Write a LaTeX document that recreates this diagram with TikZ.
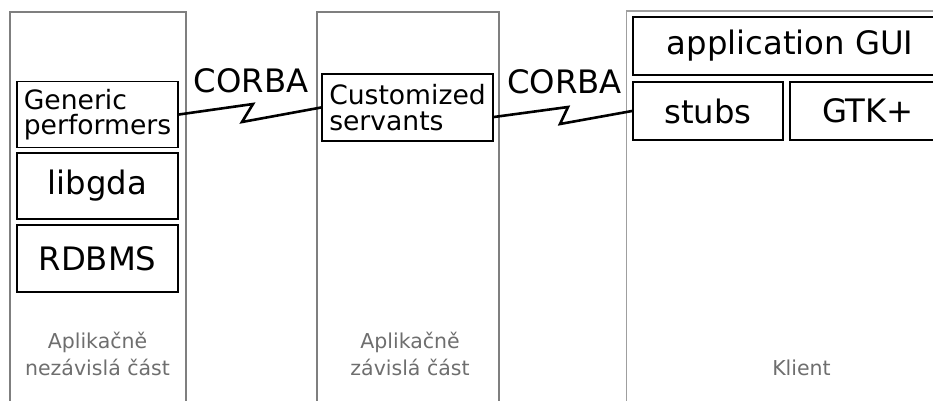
\documentclass[tikz,border=0pt]{standalone}
\usepackage{fontspec}
\setmainfont{DejaVu Sans}
\newcommand{\bigtext}{\fontsize{32.3}{37}\selectfont}
\newcommand{\midtext}{\fontsize{26.6}{25.5}\selectfont}
\newcommand{\smalltext}{\fontsize{20.5}{27}\selectfont}
\definecolor{panelgray}{HTML}{7F7F7F}
\definecolor{labelgray}{HTML}{6E6E6E}
\begin{document}
\begin{tikzpicture}[x=1pt,y=-1pt,
    layer/.style={draw,line width=1.8pt,inner sep=0pt,align=center,font=\bigtext},
    panel/.style={draw=panelgray,line width=2pt},
    link/.style={line width=2.6pt,line join=miter},
    caption/.style={text=labelgray,align=center,font=\smalltext}]
    \useasboundingbox (0,0) rectangle (933,401);
    % Three tiers, open at the bottom
    \draw[panel] (10,410) -- (10,12) -- (186,12) -- (186,410);
    \draw[panel] (316.5,410) -- (316.5,12) -- (499,12) -- (499,410);
    \draw[draw=panelgray!75,line width=1.2pt] (626.5,410) -- (626.5,11) -- (940,11);
    % Server side
    \node[layer,minimum width=161pt,minimum height=66pt,font=\midtext,align=left] (performers) at (97.5,114.5) {Generic\\performers};
    \node[layer,minimum width=161pt,minimum height=66pt] (libgda) at (97.5,186) {libgda};
    \node[layer,minimum width=161pt,minimum height=67pt] (rdbms) at (97.5,258.5) {RDBMS};
    \node[layer,minimum width=171pt,minimum height=67pt,font=\midtext,align=left] (servants) at (407.5,107.5) {Customized\\servants};
    % Client side
    \node[layer,minimum width=314pt,minimum height=58pt] (gui) at (790,46) {application GUI};
    \node[layer,minimum width=150pt,minimum height=58pt] (stubs) at (708,111) {stubs};
    \node[layer,minimum width=156pt,minimum height=58pt] (gtk) at (868,111) {GTK+};
    % CORBA links
    \node[font=\bigtext,anchor=base] (corbaA) at (251,93) {CORBA};
    \node[font=\bigtext,anchor=base] (corbaB) at (564.5,94) {CORBA};
    \coordinate (zigA1) at (253,104);
    \coordinate (zigA2) at (242,122);
    \coordinate (zigB1) at (568,107);
    \coordinate (zigB2) at (560,124);
    \draw[link] (performers.east) -- (zigA1) -- (zigA2) -- (servants.west);
    \draw[link] ([yshift=-9.5pt]servants.east) -- (zigB1) -- (zigB2) -- (stubs.west);
    % Tier names
    \node[caption] (indep) at (97.5,354) {Aplikačně\\nezávislá část};
    \node[caption] (dep) at (410,354) {Aplikačně\\závislá část};
    \node[caption,anchor=base] (client) at (801.5,375) {Klient};
\end{tikzpicture}
\end{document}
